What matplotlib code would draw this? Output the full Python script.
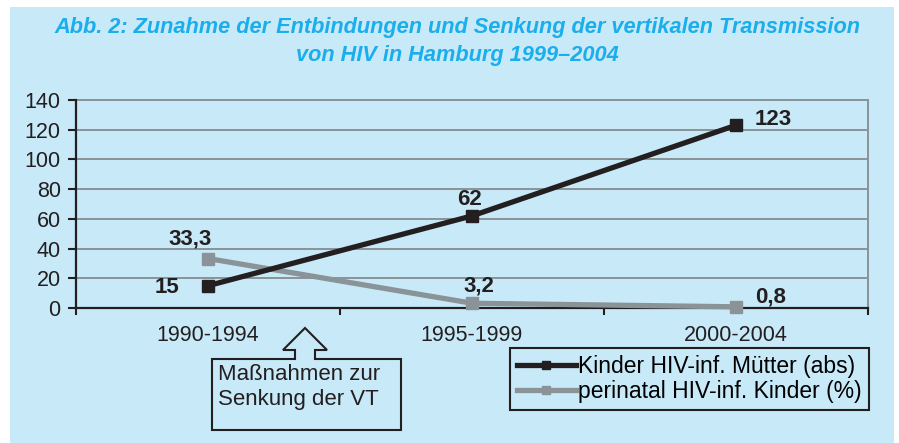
"""
Abb. 2: Entbindungen und vertikale Transmission von HIV in Hamburg.

Writes out.png (899x443).
"""

import matplotlib.pyplot as plt
from matplotlib.patches import Rectangle, Polygon
from matplotlib.ticker import FixedLocator

# ---- data ----
periods = ["1990-1994", "1995-1999", "2000-2004"]
kinder_abs = [15, 62, 123]
perinatal_pct = [33.3, 3.2, 0.8]
kinder_labels = ["15", "62", "123"]
perinatal_labels = ["33,3", "3,2", "0,8"]

BG = "#C8E9F8"
BLACK = "#231F20"
GREY = "#8A9397"
TITLE_BLUE = "#1AAEEC"
FS = 15.5

plt.rcParams.update({
    "font.family": ["Liberation Sans", "DejaVu Sans"],
    "font.size": FS,
})

W, H = 899, 443
fig = plt.figure(figsize=(W / 100, H / 100), dpi=100, facecolor="white")

# light blue panel behind everything
fig.patches.append(Rectangle((10 / W, 0), 884 / W, 1 - 7 / H,
                             transform=fig.transFigure, facecolor=BG,
                             edgecolor="none", zorder=-10))

for line, ypx in [("Abb. 2: Zunahme der Entbindungen und Senkung der vertikalen Transmission", 27),
                  ("von HIV in Hamburg 1999\u20132004", 56)]:
    fig.text(457 / W, 1 - ypx / H, line, ha="center", va="center",
             color=TITLE_BLUE, fontsize=15.7, fontweight="bold",
             fontstyle="italic")

ax = fig.add_axes([76 / W, 1 - 308 / H, (868 - 76) / W, (308 - 100) / H])
ax.set_facecolor(BG)

x = list(range(len(periods)))
ax.plot(x, kinder_abs, color=BLACK, lw=3.8, marker="s", ms=9,
        label="Kinder HIV-inf. Mütter (abs)", zorder=7, clip_on=False)
ax.plot(x, perinatal_pct, color=GREY, lw=3.8, marker="s", ms=9,
        label="perinatal HIV-inf. Kinder (%)", zorder=6, clip_on=False)

# value labels (offsets in pixels)
k_off = [(-41, -2), (-2, 16), (37, 6)]
p_off = [(-18, 20), (7, 17), (35, 10)]
for xi, yi, txt, off in zip(x, kinder_abs, kinder_labels, k_off):
    ax.annotate(txt, (xi, yi), xytext=off, textcoords="offset pixels",
                ha="center", va="center", fontweight="bold", color=BLACK,
                fontsize=16)
for xi, yi, txt, off in zip(x, perinatal_pct, perinatal_labels, p_off):
    ax.annotate(txt, (xi, yi), xytext=off, textcoords="offset pixels",
                ha="center", va="center", fontweight="bold", color=BLACK,
                fontsize=16)

ax.set_xlim(-0.5, 2.5)
ax.set_ylim(0, 140)
ax.set_yticks(range(0, 141, 20))
ax.set_xticks(x)
ax.set_xticklabels(periods)
ax.xaxis.set_minor_locator(FixedLocator([-0.5, 0.5, 1.5, 2.5]))
ax.tick_params(axis="x", which="major", length=0, pad=12, colors=BLACK)
ax.tick_params(axis="x", which="minor", length=5, width=1.5, direction="out",
               color=BLACK)
ax.tick_params(axis="y", length=6, width=1.5, direction="out", pad=5,
               color=BLACK, labelcolor=BLACK)

ax.grid(axis="y", color=GREY, lw=1.4)
ax.set_axisbelow(True)
for side in ("left", "bottom"):
    ax.spines[side].set_color(BLACK)
    ax.spines[side].set_linewidth(1.6)
    ax.spines[side].set_zorder(5)
for side in ("top", "right"):
    ax.spines[side].set_color(GREY)
    ax.spines[side].set_linewidth(1.4)

leg = ax.legend(loc="upper right", bbox_to_anchor=(869 / W, 1 - 348 / H),
                bbox_transform=fig.transFigure, frameon=True, fancybox=False,
                facecolor=BG, edgecolor=BLACK, framealpha=1, fontsize=16.5,
                handlelength=2.6, handletextpad=0.1, borderpad=0.3,
                labelspacing=0.1, borderaxespad=0, markerscale=0.6)
leg.get_frame().set_linewidth(1.5)
leg.set_zorder(10)

# arrow box pointing to the first period
arrow = [(305, 328), (327, 350), (315, 350), (315, 359), (401, 359),
         (401, 430), (212, 430), (212, 359), (295, 359), (295, 350),
         (283, 350)]
fig.patches.append(Polygon([(px / W, 1 - py / H) for px, py in arrow],
                           closed=True, transform=fig.transFigure,
                           facecolor=BG, edgecolor=BLACK, lw=1.5, zorder=2))
fig.text(218 / W, 1 - 374 / H, "Maßnahmen zur", ha="left", va="center",
         fontsize=16, color=BLACK)
fig.text(218 / W, 1 - 400 / H, "Senkung der VT", ha="left", va="center",
         fontsize=16, color=BLACK)

fig.savefig("out.png", dpi=100, facecolor="white")
